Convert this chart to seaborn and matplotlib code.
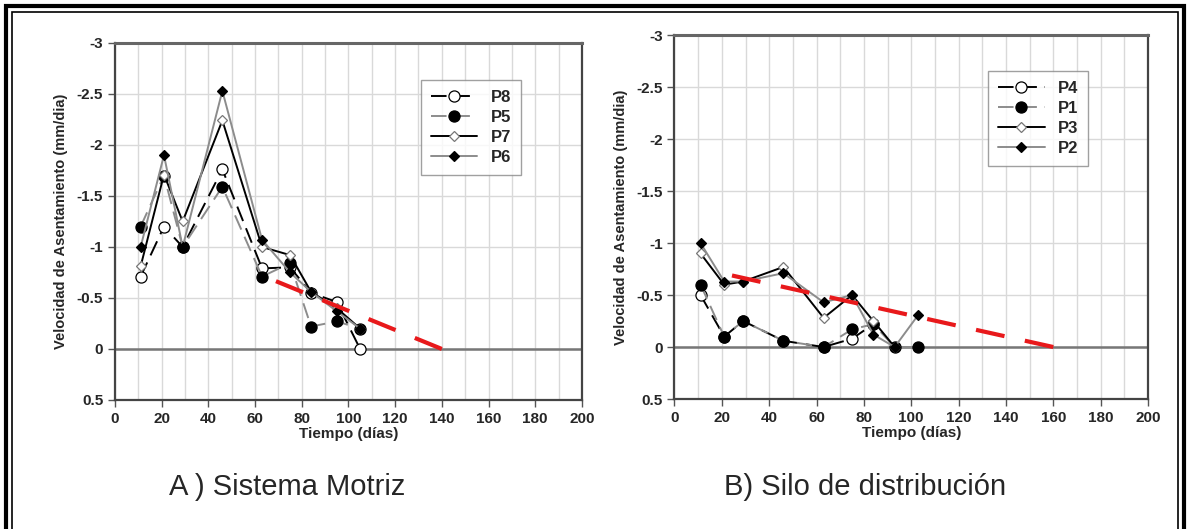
import matplotlib
matplotlib.use("Agg")
import matplotlib.pyplot as plt
import seaborn as sns
import numpy as np
from matplotlib.lines import Line2D
from matplotlib.patches import Rectangle
from matplotlib.ticker import MultipleLocator, FuncFormatter

sns.set_style("white")
plt.rcParams['font.family'] = ['Liberation Sans Narrow', 'Liberation Sans', 'DejaVu Sans']
plt.rcParams['axes.unicode_minus'] = False

# A) Sistema Motriz
dias_a = [11, 21, 29, 46, 63, 75, 84, 95, 105]
p8 = [-0.71, -1.2, -1.0, -1.76, -0.79, -0.8, -0.55, -0.46, 0.0]
p5 = [-1.2, -1.7, -1.0, -1.59, -0.71, -0.84, -0.22, -0.27, -0.2]
p7 = [-0.81, -1.71, -1.25, -2.24, -1.0, -0.92, -0.56, -0.4, -0.2]
p6 = [-1.0, -1.9, -1.0, -2.53, -1.07, -0.75, -0.56, -0.37, -0.2]
tend_a_x = [140, 63]
tend_a_y = [0.0, -0.72]

# B) Silo de distribucion
dias_b = [11, 21, 29, 46, 63, 75, 84, 93, 103]
p4 = [-0.5, -0.1, -0.25, -0.06, 0.0, -0.08, -0.22, np.nan, np.nan]
p1 = [-0.6, -0.1, -0.25, -0.06, 0.0, -0.17, -0.22, 0.0, 0.0]
p3 = [-0.9, -0.6, -0.63, -0.77, -0.28, -0.5, -0.25, 0.0, np.nan]
p2 = [-1.0, -0.63, -0.63, -0.71, -0.43, -0.5, -0.12, 0.0, -0.31]
tend_b_x = [160, 16]
tend_b_y = [0.0, -0.73]

# estilos de cada serie
est_open_c = dict(color="black", dashes=(8, 4), marker="o", mfc="white", mec="black", ms=8)
est_fill_c = dict(color="#8c8c8c", dashes=(8, 4), marker="o", mfc="black", mec="black", ms=8)
est_open_d = dict(color="black", dashes=None, marker="D", mfc="white", mec="#777777", ms=5)
est_fill_d = dict(color="#8c8c8c", dashes=None, marker="D", mfc="black", mec="black", ms=5)

fig = plt.figure(figsize=(11.9, 5.29), dpi=100)
axA = fig.add_axes([0.0966, 0.2439, 0.3924, 0.675])
axB = fig.add_axes([0.5668, 0.2457, 0.3979, 0.688])


def serie(ax, x, y, st, lbl):
    kw = dict(color=st["color"], lw=1.4, marker=st["marker"], markersize=st["ms"],
              markerfacecolor=st["mfc"], markeredgecolor=st["mec"], markeredgewidth=0.9)
    sns.lineplot(x=x, y=y, ax=ax, **kw)
    ln = ax.lines[-1]
    if st["dashes"] is not None:
        ln.set_dashes(st["dashes"])
    return Line2D([], [], label=lbl, **kw, **({"dashes": st["dashes"]} if st["dashes"] else {}))


def marco(ax):
    ax.set_xlim(0, 200)
    ax.set_ylim(0.5, -3)
    ax.xaxis.set_major_locator(MultipleLocator(20))
    ax.xaxis.set_minor_locator(MultipleLocator(10))
    ax.yaxis.set_major_locator(MultipleLocator(0.5))
    ax.yaxis.set_major_formatter(FuncFormatter(lambda v, p: "%g" % v))
    ax.grid(True, which="both", axis="x", color="#d9d9d9", lw=1)
    ax.grid(True, which="major", axis="y", color="#d9d9d9", lw=1)
    ax.axhline(0, color="#777777", lw=1.8, zorder=1)
    ax.set_axisbelow(True)
    for s in ["left", "bottom", "right"]:
        ax.spines[s].set_color("#444444")
        ax.spines[s].set_linewidth(1.6)
    ax.spines["top"].set_color("#666666")
    ax.spines["top"].set_linewidth(2.2)
    ax.tick_params(axis="both", which="major", direction="out", length=5, width=1,
                   color="#555555", labelsize=11, bottom=True, left=True)
    for t in ax.get_xticklabels() + ax.get_yticklabels():
        t.set_fontweight("bold")
    ax.set_xlabel("Tiempo (días)", fontsize=11, fontweight="bold", labelpad=1)
    ax.set_ylabel("Velocidad de Asentamiento (mm/dia)", fontsize=10.5, fontweight="bold", labelpad=6)


# panel A
hA = [serie(axA, dias_a, p8, est_open_c, "P8"),
      serie(axA, dias_a, p5, est_fill_c, "P5"),
      serie(axA, dias_a, p7, est_open_d, "P7"),
      serie(axA, dias_a, p6, est_fill_d, "P6")]
sns.lineplot(x=tend_a_x, y=tend_a_y, ax=axA, color="#e8191b", lw=3, sort=False)
axA.lines[-1].set_dashes((7, 5))
marco(axA)

# panel B
hB = [serie(axB, dias_b, p4, est_open_c, "P4"),
      serie(axB, dias_b, p1, est_fill_c, "P1"),
      serie(axB, dias_b, p3, est_open_d, "P3"),
      serie(axB, dias_b, p2, est_fill_d, "P2")]
sns.lineplot(x=tend_b_x, y=tend_b_y, ax=axB, color="#e8191b", lw=3, sort=False)
axB.lines[-1].set_dashes((7, 5))
marco(axB)

for ax, h, pos in [(axA, hA, (0.655, 0.896)), (axB, hB, (0.662, 0.902))]:
    leg = ax.legend(handles=h, loc="upper left", bbox_to_anchor=pos, frameon=True,
                    fancybox=False, edgecolor="#888888", handlelength=2.8,
                    prop={"weight": "bold", "size": 12}, labelspacing=0.3,
                    borderpad=0.6, handletextpad=0.8, borderaxespad=0)
    leg.get_frame().set_linewidth(1)

fig.text(0.241, 0.08, "A ) Sistema Motriz", fontsize=21, ha="center", va="center")
fig.text(0.727, 0.08, "B) Silo de distribución", fontsize=21, ha="center", va="center")

# marco doble de la figura (abierto abajo)
fig.patches.append(Rectangle((6 / 1190, -0.05), 1178 / 1190, 1 - 6 / 529 + 0.05,
                             transform=fig.transFigure, fill=False, lw=3, ec="black"))
fig.patches.append(Rectangle((12 / 1190, -0.05), 1166 / 1190, 1 - 12 / 529 + 0.05,
                             transform=fig.transFigure, fill=False, lw=1.2, ec="black"))

fig.savefig("out.png", dpi=100)
